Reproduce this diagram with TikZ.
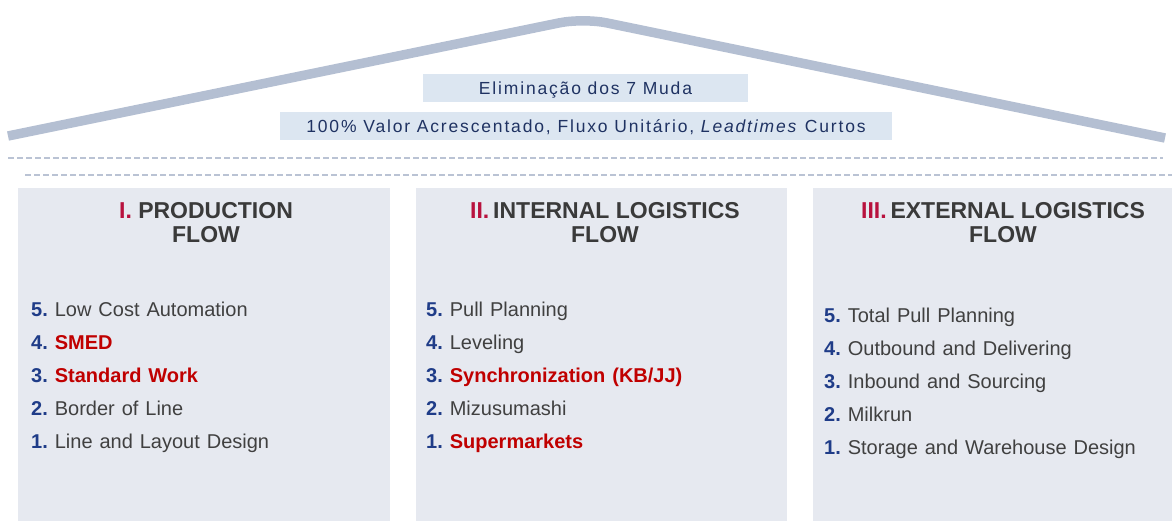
\documentclass[tikz,border=0pt]{standalone}
\usepackage{fontspec}
\setmainfont{Liberation Sans}
\newfontfamily\itemfont[WordSpace=1.25]{Liberation Sans}
\definecolor{roofc}{HTML}{B4BFD2}
\definecolor{bannerc}{HTML}{DCE6F1}
\definecolor{bannertxt}{HTML}{1F3262}
\definecolor{dashc}{HTML}{BAC3D4}
\definecolor{colc}{HTML}{E6E9F0}
\definecolor{titlec}{HTML}{3A3A3A}
\definecolor{romanc}{HTML}{B8123E}
\definecolor{numc}{HTML}{1F3C88}
\definecolor{itemc}{HTML}{404040}
\definecolor{hotc}{HTML}{C00000}
\tikzset{
  roofline/.style={draw=roofc, line width=9.5pt, rounded corners=24pt},
  banner/.style={fill=bannerc},
  bannertext/.style={anchor=base, text=bannertxt, inner sep=0pt,
    font=\fontsize{17.5}{19}\selectfont\addfontfeature{LetterSpace=10.5}},
  sep/.style={draw=dashc, line width=1.8pt, dash pattern=on 6pt off 3pt},
  column/.style={fill=colc},
  title/.style={anchor=base, text=titlec, inner sep=0pt,
    font=\bfseries\fontsize{23}{25}\selectfont},
  item/.style={anchor=base west, text=itemc, inner sep=0pt,
    font=\itemfont\fontsize{20}{22}\selectfont},
}
\newcommand{\rn}[1]{\textcolor{romanc}{#1}}
\newcommand{\nm}[1]{\textcolor{numc}{\bfseries #1}\ }
\newcommand{\hot}[1]{\textcolor{hotc}{\bfseries #1}}
\begin{document}
\begin{tikzpicture}[x=1pt,y=-1pt]
\useasboundingbox (0,0) rectangle (1172,520);

% roof
\coordinate (eaveL) at (8,136);
\coordinate (ridge) at (583,18);
\coordinate (eaveR) at (1165,138);
\draw[roofline] (eaveL) -- (ridge) -- (eaveR);

% banners under the roof
\fill[banner] (423,74) rectangle (748,102);
\node[bannertext] (muda) at (585.5,94) {Eliminação dos 7 Muda};
\fill[banner] (280,112) rectangle (892,140);
\node[bannertext] (valor) at (586,132) {100\% Valor Acrescentado, Fluxo Unitário, \textit{Leadtimes} Curtos};

% dashed separators
\draw[sep] (8,158) -- (1163,158);
\draw[sep] (25,175) -- (1172,175);

% columns
\fill[column] (18,188) rectangle (390,522);
\fill[column] (416,188) rectangle (787,522);
\fill[column] (813,188) rectangle (1195,522);

% column titles
\node[title] (t1a) at (206,218) {\rn{I.} PRODUCTION};
\node[title] (t1b) at (206,242) {FLOW};
\node[title] (t2a) at (605,218) {\rn{II.}\,INTERNAL LOGISTICS};
\node[title] (t2b) at (605,242) {FLOW};
\node[title] (t3a) at (1003,218) {\rn{III.}\,EXTERNAL LOGISTICS};
\node[title] (t3b) at (1003,242) {FLOW};

% production flow
\node[item] (a5) at (31,316) {\nm{5.}Low Cost Automation};
\node[item] (a4) at (31,349) {\nm{4.}\hot{SMED}};
\node[item] (a3) at (31,382) {\nm{3.}\hot{Standard Work}};
\node[item] (a2) at (31,415) {\nm{2.}Border of Line};
\node[item] (a1) at (31,448) {\nm{1.}Line and Layout Design};

% internal logistics flow
\node[item] (b5) at (426,316) {\nm{5.}Pull Planning};
\node[item] (b4) at (426,349) {\nm{4.}Leveling};
\node[item] (b3) at (426,382) {\nm{3.}\hot{Synchronization (KB/JJ)}};
\node[item] (b2) at (426,415) {\nm{2.}Mizusumashi};
\node[item] (b1) at (426,448) {\nm{1.}\hot{Supermarkets}};

% external logistics flow
\node[item] (c5) at (824,322) {\nm{5.}Total Pull Planning};
\node[item] (c4) at (824,355) {\nm{4.}Outbound and Delivering};
\node[item] (c3) at (824,388) {\nm{3.}Inbound and Sourcing};
\node[item] (c2) at (824,421) {\nm{2.}Milkrun};
\node[item] (c1) at (824,454) {\nm{1.}Storage and Warehouse Design};
\end{tikzpicture}
\end{document}
